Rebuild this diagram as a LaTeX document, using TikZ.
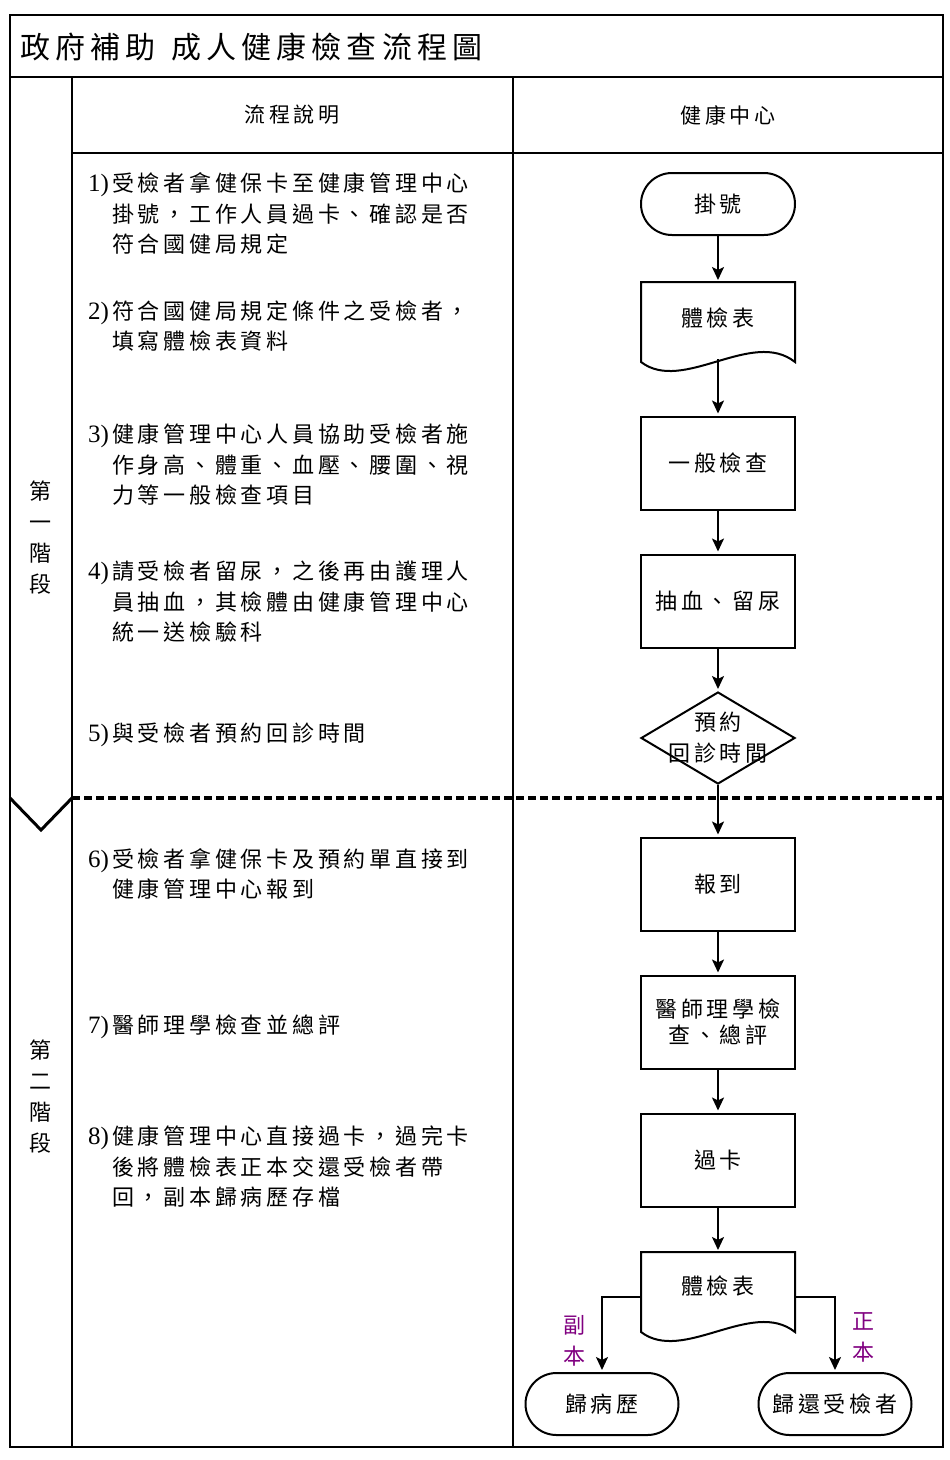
\documentclass[tikz,border=0pt]{standalone}
\usepackage{fontspec}
\setmainfont{Liberation Serif}
\newfontfamily\cjk[LetterSpace=17]{Noto Sans CJK TC}
\usetikzlibrary{shapes.geometric,arrows.meta}
\definecolor{lblpurple}{RGB}{128,0,128}
\newcommand\descln[4]{\node[txt] (#1) at (#2,#3) {#4};}
\newcommand\num[1]{\makebox[24pt][l]{\fontsize{25}{26}\selectfont\rmfamily #1}}
\tikzset{
  frame/.style={line width=1.5pt},
  txt/.style={anchor=west, inner sep=0pt, font=\fontsize{22}{26}\selectfont\cjk, text height=19pt, text depth=3pt},
  procbox/.style={draw, line width=2pt, minimum width=154pt, minimum height=93pt, inner sep=0pt, font=\fontsize{22}{26}\selectfont\cjk, align=center},
  termbox/.style={draw, line width=2pt, rounded corners=31pt, minimum width=153pt, minimum height=62pt, inner sep=0pt, font=\fontsize{22}{26}\selectfont\cjk},
  plain/.style={inner sep=0pt, font=\fontsize{22}{26}\selectfont\cjk},
  flow/.style={line width=2pt, -{Stealth[length=13pt,width=12pt,inset=3pt]}, shorten >=2pt},
  docline/.style={line width=2pt},
}
\begin{document}
\begin{tikzpicture}[x=1pt,y=-1pt]
\useasboundingbox (0,0) rectangle (950,1460);
% frame
\draw[frame] (10,15) rectangle (943,1447);
\draw[line width=2pt] (10,77) -- (943,77);
\draw[frame] (72,77) -- (72,1447);
\draw[frame] (513,77) -- (513,1447);
\draw[line width=2pt] (72,153) -- (943,153);
% title and headers
\node[inner sep=0pt, anchor=west, font=\fontsize{30}{34}\selectfont\cjk] (title) at (20,47) {政府補助\hspace{16pt}成人健康檢查流程圖};
\node[plain, font=\fontsize{21}{26}\selectfont\cjk] (h1) at (292,115) {流程說明};
\node[plain, font=\fontsize{21}{26}\selectfont\cjk] (h2) at (728,115) {健康中心};
% stages
\node[plain, align=center, font=\fontsize{22}{31}\selectfont\cjk] (s1) at (41,538) {第\\一\\階\\段};
\node[plain, align=center, font=\fontsize{22}{31}\selectfont\cjk] (s2) at (41,1097) {第\\二\\階\\段};
% divider
\draw[line width=3pt, line join=miter] (10,798) -- (41,830) -- (72,798);
\draw[line width=3.5pt, dash pattern=on 8pt off 4pt] (72,798) -- (943,798);
% descriptions
\descln{a1}{88}{183}{\num{1)}受檢者拿健保卡至健康管理中心}
\descln{a2}{112}{214}{掛號，工作人員過卡、確認是否}
\descln{a3}{112}{244}{符合國健局規定}
\descln{b1}{88}{311}{\num{2)}符合國健局規定條件之受檢者，}
\descln{b2}{112}{341}{填寫體檢表資料}
\descln{c1}{88}{434}{\num{3)}健康管理中心人員協助受檢者施}
\descln{c2}{112}{465}{作身高、體重、血壓、腰圍、視}
\descln{c3}{112}{495}{力等一般檢查項目}
\descln{d1}{88}{571}{\num{4)}請受檢者留尿，之後再由護理人}
\descln{d2}{112}{602}{員抽血，其檢體由健康管理中心}
\descln{d3}{112}{632}{統一送檢驗科}
\descln{e1}{88}{733}{\num{5)}與受檢者預約回診時間}
\descln{f1}{88}{859}{\num{6)}受檢者拿健保卡及預約單直接到}
\descln{f2}{112}{889}{健康管理中心報到}
\descln{g1}{88}{1025}{\num{7)}醫師理學檢查並總評}
\descln{h1a}{88}{1136}{\num{8)}健康管理中心直接過卡，過完卡}
\descln{h2a}{112}{1167}{後將體檢表正本交還受檢者帶}
\descln{h3a}{112}{1197}{回，副本歸病歷存檔}
% flow nodes
\node[termbox, minimum width=154pt] (reg) at (718,204) {掛號};
\draw[docline] (641,282) -- (795,282) -- (795,362) .. controls (752,328) and (683,394) .. (641,362) -- cycle;
\coordinate (doc1top) at (718,282);
\coordinate (doc1bot) at (718,359);
\node[plain] (doc1) at (718,318) {體檢表};
\node[procbox] (gen) at (718,463) {一般檢查};
\node[procbox] (blood) at (718,601) {抽血、留尿};
\node[draw, diamond, line width=2pt, minimum width=154pt, minimum height=92pt, inner sep=0pt] (dia) at (718,738) {};
\node[plain, align=center, font=\fontsize{22}{31}\selectfont\cjk] (diat) at (718,738) {預約\\回診時間};
\node[procbox] (checkin) at (718,884) {報到};
\node[procbox] (doctor) at (718,1022) {醫師理學檢\\查、總評};
\node[procbox] (card) at (718,1160) {過卡};
\draw[docline] (641,1252) -- (795,1252) -- (795,1332) .. controls (752,1298) and (683,1364) .. (641,1332) -- cycle;
\coordinate (doc2top) at (718,1252);
\coordinate (doc2l) at (641,1297);
\coordinate (doc2r) at (795,1297);
\node[plain] (doc2) at (718,1286) {體檢表};
\node[termbox] (rec) at (602,1404) {歸病歷};
\node[termbox] (ret) at (835,1404) {歸還受檢者};
% connectors
\draw[flow] (reg.south) -- (doc1top);
\draw[flow] (doc1bot) -- (gen.north);
\draw[flow] (gen.south) -- (blood.north);
\draw[flow] (blood.south) -- (dia.north);
\draw[flow] (dia.south) -- (checkin.north);
\draw[flow] (checkin.south) -- (doctor.north);
\draw[flow] (doctor.south) -- (card.north);
\draw[flow] (card.south) -- (doc2top);
\draw[flow] (doc2l) -| (rec.north);
\draw[flow] (doc2r) -| (ret.north);
% branch labels
\node[plain, text=lblpurple, align=center, font=\fontsize{22}{31}\selectfont\cjk] (lcopy) at (574,1341) {副\\本};
\node[plain, text=lblpurple, align=center, font=\fontsize{22}{31}\selectfont\cjk] (lorig) at (863,1337) {正\\本};
\end{tikzpicture}
\end{document}
